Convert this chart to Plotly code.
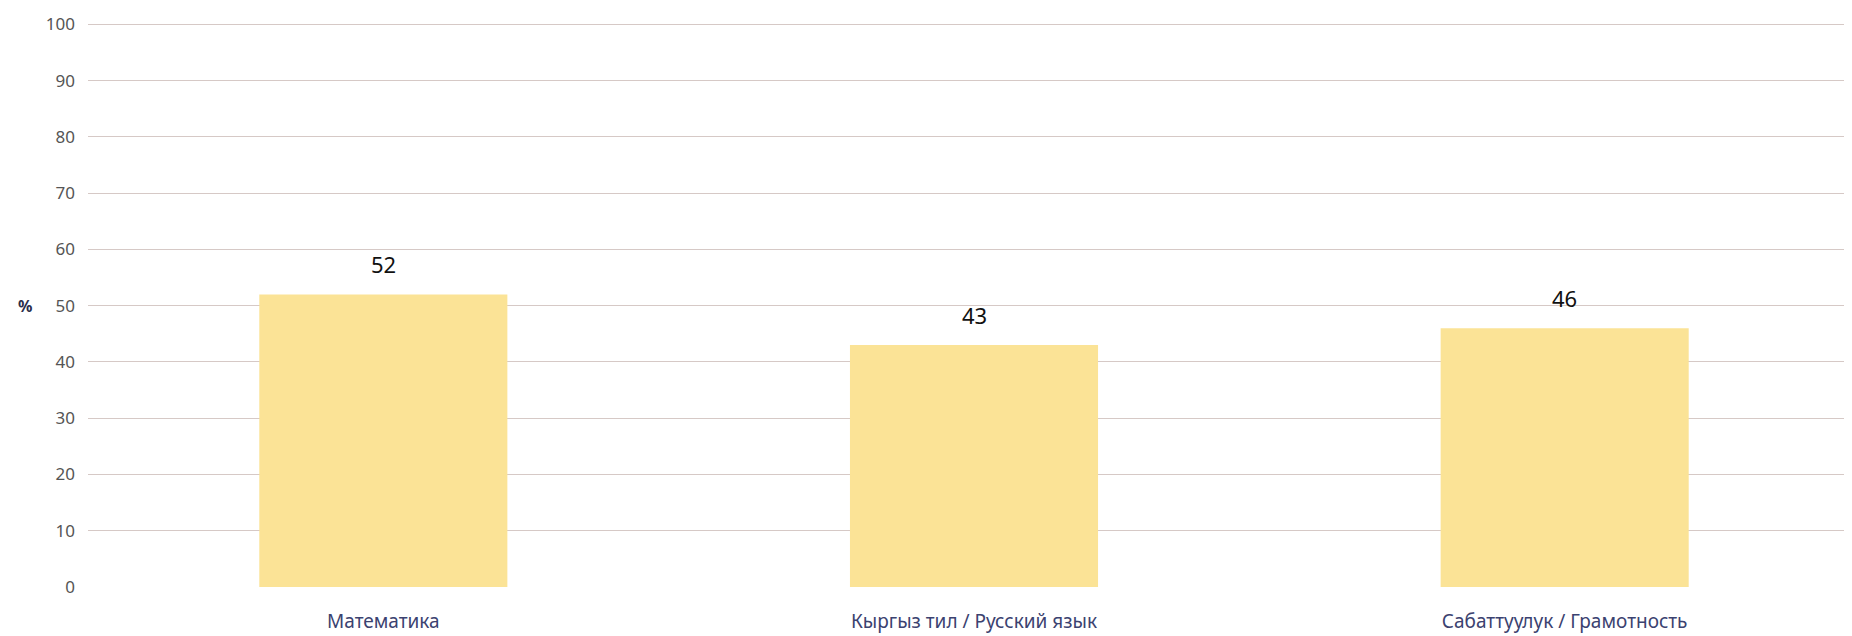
import plotly.graph_objects as go

categories = ["Математика", "Кыргыз тил / Русский язык", "Сабаттуулук / Грамотность"]
values = [52, 43, 46]
y_ticks = [0, 10, 20, 30, 40, 50, 60, 70, 80, 90, 100]

fig = go.Figure()
fig.add_trace(go.Bar(
    x=categories, y=values,
    marker=dict(color="#fbe396", line=dict(width=0)),
    hoverinfo="x+y",
))

for c, v in zip(categories, values):
    fig.add_annotation(x=c, y=v, text=str(v), showarrow=False, yshift=30,
                       font=dict(family="Noto Sans", size=22, color="#111111"))

fig.add_annotation(xref="paper", yref="y", x=0, y=50, xshift=-72, text="<b>%</b>",
                   showarrow=False, font=dict(family="Noto Sans", size=16, color="#2a2d4a"))

fig.update_layout(
    width=1852, height=636,
    margin=dict(l=80, r=0, t=13, b=57),
    paper_bgcolor="white", plot_bgcolor="white",
    showlegend=False,
    bargap=0.58,
)
fig.update_xaxes(
    showgrid=False, showline=False, zeroline=False,
    tickfont=dict(family="Noto Sans", size=19, color="#3b4270"),
    ticklabelstandoff=21,
)
fig.update_yaxes(
    range=[0, 100.6], tickvals=y_ticks,
    showgrid=True, gridcolor="#d6c9c6", gridwidth=1,
    zeroline=False, showline=False,
    tickfont=dict(family="Noto Sans", size=17, color="#555555"),
    ticklabelstandoff=12,
)

fig.write_html("out.html")
